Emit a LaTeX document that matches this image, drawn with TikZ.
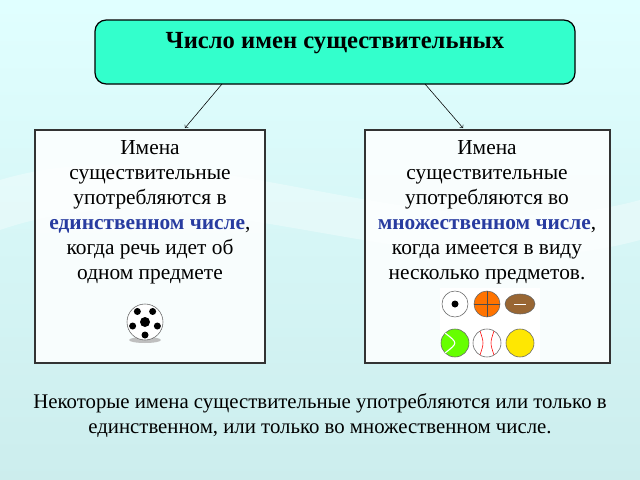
\documentclass[tikz,border=0pt]{standalone}
\usepackage{fontspec}
\setmainfont{Liberation Serif}
\usetikzlibrary{positioning,calc}
\definecolor{mint}{RGB}{51,255,204}
\definecolor{blueword}{RGB}{40,60,160}
\tikzset{
  rule box/.style={draw=black!80, line width=0.8pt, fill=white, fill opacity=0.85, text opacity=1},
  rule text/.style={align=center, font=\fontsize{15.2}{17.7}\selectfont},
  ball/.style={draw=black!60, line width=0.4pt},
}
\begin{document}
\begin{tikzpicture}[x=0.025cm,y=-0.025cm]
\useasboundingbox (0,0) rectangle (640,480);
\shade[top color=cyan!12, bottom color=cyan!30!teal!20] (0,0) rectangle (640,480);
\fill[white, opacity=0.35] (0,180) .. controls (200,120) and (420,260) .. (640,200) -- (640,240) .. controls (420,300) and (200,160) .. (0,230) -- cycle;

% title
\draw[fill=mint, rounded corners=8pt, line width=0.9pt] (95,20) rectangle (575,84);
\node[font=\fontsize{17.5}{20}\selectfont\bfseries] (title) at (335,43) {Число имен существительных};
\coordinate (tl) at (222,84);
\coordinate (tr) at (425,84);

% boxes
\draw[rule box] (35,130) rectangle (265,363);
\draw[rule box] (365,130) rectangle (610,363);
\coordinate (bl) at (185,128);
\coordinate (br) at (463,128);
\draw[->, thin] (tl) -- (bl);
\draw[->, thin] (tr) -- (br);

\node[rule text, anchor=north] (left) at (150,136) {Имена\\существительные\\употребляются в\\{\bfseries\color{blueword}единственном числе},\\когда речь идет об\\одном предмете};
\node[rule text, anchor=north] (right) at (487,136) {Имена\\существительные\\употребляются во\\{\bfseries\color{blueword}множественном числе},\\когда имеется в виду\\несколько предметов.};

% balls
\fill[black!25] (145,340) ellipse (16 and 3);
\draw[ball, fill=white] (145,322) circle (18);
\fill (145,322) circle (5);
\foreach \a in {18,90,162,234,306} \fill ($(145,322)+(\a:13)$) circle (3.5);

\fill[white] (440,288) rectangle (540,360);
\draw[ball, fill=white] (455,304) circle (13);
\fill (455,304) circle (3.5);
\draw[ball, fill=orange!90!red] (487,304) circle (13);
\draw[black!70] (474,304) -- (500,304) (487,291) -- (487,317);
\draw[ball, fill=brown!80!black] (520,304) ellipse (15 and 10);
\draw[white] (514,304) -- (526,304);
\draw[ball, fill=green!60!yellow] (455,343) circle (14);
\draw[white, thick] (445,333) .. controls (458,343) .. (445,353);
\draw[ball, fill=white] (487,343) circle (14);
\draw[red] (480,331) .. controls (484,343) .. (480,355) (494,331) .. controls (490,343) .. (494,355);
\draw[ball, fill=yellow!90!orange] (520,343) circle (14);

\node[rule text, font=\fontsize{14.8}{17.7}\selectfont] (note) at (320,416) {Некоторые имена существительные употребляются или только в\\единственном, или только во множественном числе.};
\end{tikzpicture}
\end{document}
